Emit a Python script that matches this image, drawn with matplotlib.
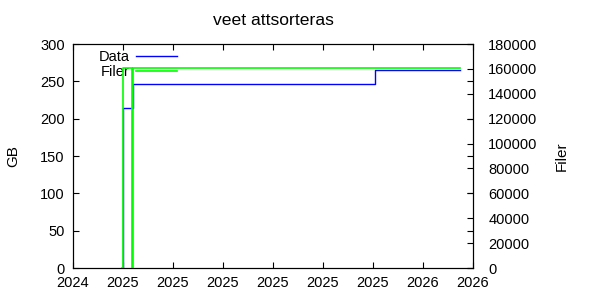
import matplotlib
matplotlib.use('Agg')
import matplotlib.pyplot as plt

plt.rcParams['font.family'] = ['Liberation Sans', 'DejaVu Sans']
plt.rcParams['font.size'] = 10.5

# days since first x tick, one tick every 60 days
tick_days = [0, 60, 120, 180, 240, 300, 360, 420, 480]
tick_labels = ['2024', '2025', '2025', '2025', '2025', '2025', '2025', '2026', '2026']

# Data (GB), left axis
data_days = [59, 60, 72, 362, 464]
data_gb = [0, 214, 247, 265, 265]

# Filer (antal), right axis
filer_days = [59, 60, 71, 71.5, 464]
filer_count = [0, 161000, 0, 161000, 161000]

fig = plt.figure(figsize=(6, 3), dpi=100)
ax = fig.add_axes([73 / 600, 32 / 300, 400 / 600, 224 / 300])
ax2 = ax.twinx()

l1, = ax.plot(data_days, data_gb, drawstyle='steps-post', color='#0000ff', lw=1, label='Data')
l2, = ax2.plot(filer_days, filer_count, drawstyle='steps-post', color='#00ff00', lw=1.2, label='Filer')

ax.set_xlim(0, 480)
ax.set_ylim(0, 300)
ax2.set_ylim(0, 180000)
ax.set_xticks(tick_days)
ax.set_xticklabels(tick_labels)
ax.set_yticks(range(0, 301, 50))
ax2.set_yticks(range(0, 180001, 20000))

ax.tick_params(direction='in', length=4, top=True, right=True, color='black')
ax.tick_params(axis='y', pad=6)
ax.tick_params(axis='x', pad=6)
ax2.tick_params(direction='in', length=4, pad=11)

ax.set_ylabel('GB', labelpad=14, fontsize=11)
ax2.set_ylabel('Filer', labelpad=12, fontsize=11)
ax.set_title('veet attsorteras', pad=14)

ax.legend(handles=[l1, l2], loc='upper left', bbox_to_anchor=(0.043, 1.012), frameon=False,
          markerfirst=False, handlelength=2.8, handletextpad=0.4, labelspacing=0.05,
          borderaxespad=0.2)

fig.savefig('out.png')
